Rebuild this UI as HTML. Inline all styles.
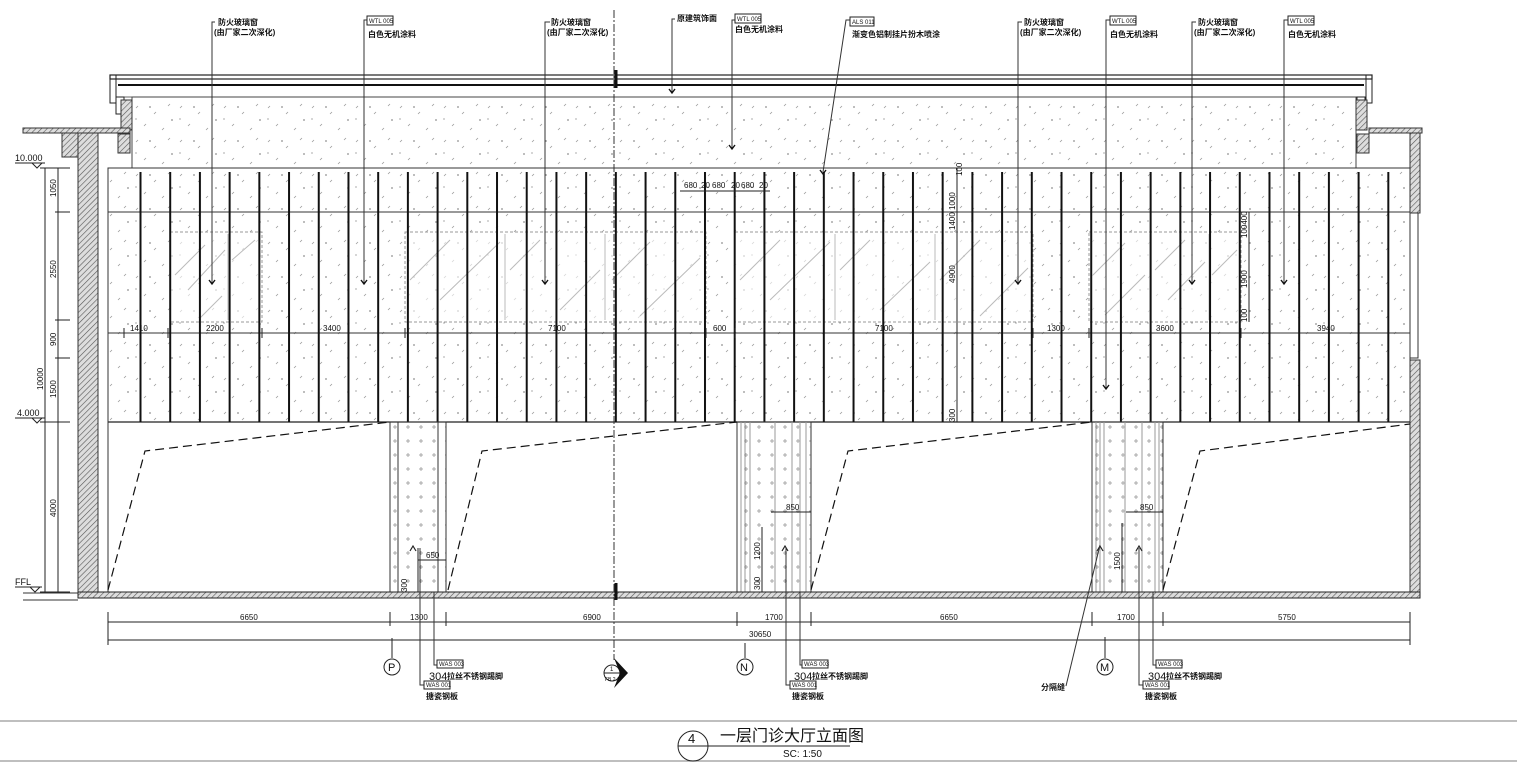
<!DOCTYPE html>
<html><head><meta charset="utf-8"><style>
html,body{margin:0;padding:0;background:#fff;width:1517px;height:763px;overflow:hidden}
svg{display:block}
text{font-family:"Liberation Sans","Noto Sans CJK SC",sans-serif;fill:#111}
.s{font-size:8px}
.c{font-size:8px;font-weight:bold}
</style></head><body>
<svg width="1517" height="763" viewBox="0 0 1517 763" xmlns="http://www.w3.org/2000/svg">
<defs>
<pattern id="dots" patternUnits="userSpaceOnUse" width="44" height="34">
<g stroke="#999" stroke-width="0.8">
<line x1="4" y1="6" x2="6" y2="4"/><line x1="22" y1="12" x2="24" y2="10"/><line x1="36" y1="4" x2="38" y2="2"/>
<line x1="12" y1="24" x2="14" y2="22"/><line x1="30" y1="28" x2="32" y2="26"/>
<line x1="17" y1="5" x2="19" y2="5"/><line x1="18" y1="4" x2="18" y2="6"/>
<line x1="39" y1="18" x2="41" y2="18"/><line x1="40" y1="17" x2="40" y2="19"/>
<line x1="3" y1="17" x2="5" y2="17"/>
</g></pattern>
<pattern id="plus" patternUnits="userSpaceOnUse" width="13" height="14">
<g stroke="#999" stroke-width="0.8"><line x1="3" y1="7" x2="7" y2="7"/><line x1="5" y1="5" x2="5" y2="9"/></g></pattern>
<pattern id="hatch" patternUnits="userSpaceOnUse" width="4" height="4" patternTransform="rotate(45)">
<rect width="4" height="4" fill="#ddd"/><line x1="0" y1="0" x2="0" y2="4" stroke="#555" stroke-width="1.2"/></pattern>
<pattern id="fins" patternUnits="userSpaceOnUse" x="139.5" y="0" width="29.71" height="10">
<rect x="0" y="0" width="2" height="10" fill="#111"/></pattern>
</defs>

<!-- roof coping -->
<rect x="110" y="75" width="1262" height="4" fill="#fff" stroke="#222" stroke-width="1.2"/>
<line x1="118" y1="85" x2="1364" y2="85" stroke="#111" stroke-width="2"/>
<line x1="118" y1="97" x2="1364" y2="97" stroke="#666" stroke-width="1"/>
<rect x="110" y="75" width="6" height="28" fill="none" stroke="#222"/>
<rect x="116" y="97" width="8" height="17" fill="none" stroke="#222"/>
<rect x="1366" y="75" width="6" height="28" fill="none" stroke="#222"/>
<rect x="1357" y="97" width="8" height="17" fill="none" stroke="#222"/>
<!-- fascia -->
<rect x="132" y="97" width="1224" height="71" fill="url(#dots)" stroke="#444" stroke-width="1"/>
<rect x="121" y="100" width="11" height="30" fill="url(#hatch)" stroke="#333"/>
<rect x="118" y="134" width="12" height="19" fill="url(#hatch)" stroke="#333"/>
<rect x="1356" y="100" width="11" height="30" fill="url(#hatch)" stroke="#333"/>
<rect x="1357" y="134" width="12" height="19" fill="url(#hatch)" stroke="#333"/>
<!-- left ledge/wall -->
<rect x="23" y="128" width="107" height="5" fill="url(#hatch)" stroke="#333"/>
<rect x="62" y="133" width="16" height="24" fill="url(#hatch)" stroke="#333"/>
<rect x="78" y="133" width="20" height="462" fill="url(#hatch)" stroke="#333"/>
<!-- right ledge/wall -->
<rect x="1369" y="128" width="53" height="5" fill="url(#hatch)" stroke="#333"/>
<rect x="1410" y="133" width="10" height="80" fill="url(#hatch)" stroke="#333"/>
<rect x="1410" y="213" width="8" height="145" fill="#fff" stroke="#333"/>
<rect x="1410" y="360" width="10" height="235" fill="url(#hatch)" stroke="#333"/>

<!-- main panel -->
<rect x="108" y="168" width="1302" height="254" fill="url(#dots)" stroke="#333" stroke-width="1"/>
<line x1="108" y1="212" x2="1410" y2="212" stroke="#333"/>
<line x1="108" y1="333" x2="1410" y2="333" stroke="#333"/>
<line x1="108" y1="422" x2="1410" y2="422" stroke="#222" stroke-width="1.3"/>
<line x1="108" y1="168" x2="108" y2="592" stroke="#333"/>

<!-- windows -->
<g fill="#fff" fill-opacity="0.6" stroke="#999" stroke-dasharray="3,2" stroke-width="1">
<rect x="170" y="232" width="92" height="90"/><rect x="405" y="232" width="301" height="90"/>
<rect x="735" y="232" width="298" height="90"/><rect x="1089" y="232" width="152" height="90"/>
</g>
<g stroke="#bbb" stroke-width="1">
<line x1="228" y1="234" x2="228" y2="320"/><line x1="505" y1="234" x2="505" y2="320"/><line x1="605" y1="234" x2="605" y2="320"/>
<line x1="835" y1="234" x2="835" y2="320"/><line x1="935" y1="234" x2="935" y2="320"/><line x1="1150" y1="234" x2="1150" y2="320"/><line x1="1209" y1="234" x2="1209" y2="320"/>
<line x1="175" y1="275" x2="205" y2="245"/><line x1="188" y1="290" x2="225" y2="250"/><line x1="232" y1="260" x2="255" y2="240"/><line x1="200" y1="318" x2="222" y2="296"/>
<line x1="410" y1="280" x2="450" y2="240"/><line x1="440" y1="300" x2="500" y2="242"/><line x1="510" y1="270" x2="540" y2="240"/><line x1="560" y1="310" x2="600" y2="270"/><line x1="612" y1="280" x2="650" y2="242"/><line x1="640" y1="316" x2="700" y2="258"/>
<line x1="740" y1="280" x2="780" y2="240"/><line x1="770" y1="300" x2="830" y2="242"/><line x1="840" y1="270" x2="870" y2="240"/><line x1="880" y1="310" x2="930" y2="262"/><line x1="940" y1="280" x2="980" y2="240"/><line x1="980" y1="316" x2="1028" y2="268"/>
<line x1="1093" y1="275" x2="1125" y2="243"/><line x1="1105" y1="315" x2="1145" y2="275"/><line x1="1155" y1="270" x2="1185" y2="240"/><line x1="1168" y1="300" x2="1205" y2="262"/><line x1="1212" y1="275" x2="1237" y2="250"/>
</g>
<!-- fins -->
<rect x="138" y="172" width="1252" height="250" fill="url(#fins)"/>

<!-- panel dims -->
<g stroke="#222" stroke-width="1"><line x1="124" y1="328" x2="124" y2="338"/><line x1="168" y1="328" x2="168" y2="338"/><line x1="262" y1="328" x2="262" y2="338"/><line x1="405" y1="328" x2="405" y2="338"/><line x1="706" y1="328" x2="706" y2="338"/><line x1="735" y1="328" x2="735" y2="338"/><line x1="1033" y1="328" x2="1033" y2="338"/><line x1="1089" y1="328" x2="1089" y2="338"/><line x1="1241" y1="328" x2="1241" y2="338"/></g>
<g class="s"><text x="130" y="331">1410</text><text x="206" y="331">2200</text><text x="323" y="331">3400</text><text x="548" y="331">7100</text><text x="713" y="331">600</text><text x="875" y="331">7100</text><text x="1047" y="331">1300</text><text x="1156" y="331">3600</text><text x="1317" y="331">3940</text></g>
<g class="s"><text x="684" y="188">680</text><text x="701" y="188">20</text><text x="712" y="188">680</text><text x="731" y="188">20</text><text x="741" y="188">680</text><text x="759" y="188">20</text></g>
<line x1="680" y1="191" x2="770" y2="191" stroke="#222"/>
<line x1="957" y1="168" x2="957" y2="422" stroke="#222"/>
<g class="s"><text transform="translate(955,230) rotate(-90)">1400 1000</text><text transform="translate(955,283) rotate(-90)">4900</text><text transform="translate(955,422) rotate(-90)">300</text><text transform="translate(962,176) rotate(-90)">100</text></g>
<line x1="1249" y1="212" x2="1249" y2="322" stroke="#222"/>
<g class="s"><text transform="translate(1247,238) rotate(-90)">100400</text><text transform="translate(1247,288) rotate(-90)">1900</text><text transform="translate(1247,322) rotate(-90)">100</text></g>

<!-- lower: columns -->
<rect x="390" y="422" width="56" height="170" fill="url(#plus)" stroke="#333"/>
<line x1="398" y1="422" x2="398" y2="592" stroke="#333"/><line x1="438" y1="422" x2="438" y2="592" stroke="#333"/>
<rect x="737" y="422" width="74" height="170" fill="url(#plus)" stroke="#333"/>
<g stroke="#999"><line x1="741" y1="422" x2="741" y2="592"/><line x1="745" y1="422" x2="745" y2="592"/><line x1="750" y1="422" x2="750" y2="592"/><line x1="775" y1="422" x2="775" y2="592"/><line x1="792" y1="422" x2="792" y2="592"/><line x1="800" y1="422" x2="800" y2="592"/><line x1="806" y1="422" x2="806" y2="592"/></g>
<rect x="1092" y="422" width="71" height="170" fill="url(#plus)" stroke="#333"/>
<g stroke="#999"><line x1="1096" y1="422" x2="1096" y2="592"/><line x1="1100" y1="422" x2="1100" y2="592"/><line x1="1104" y1="422" x2="1104" y2="592"/><line x1="1125" y1="422" x2="1125" y2="592"/><line x1="1142" y1="422" x2="1142" y2="592"/><line x1="1155" y1="422" x2="1155" y2="592"/><line x1="1159" y1="422" x2="1159" y2="592"/></g>
<!-- dashed doors -->
<g fill="none" stroke="#111" stroke-width="1.2" stroke-dasharray="9,5">
<polyline points="108,590 145,451 390,422"/><polyline points="448,590 482,451 737,422"/>
<polyline points="811,590 848,451 1092,422"/><polyline points="1163,590 1200,451 1410,424"/>
</g>
<!-- column dims -->
<g stroke="#222" fill="none"><line x1="418" y1="560" x2="446" y2="560"/><line x1="418" y1="548" x2="418" y2="592"/><line x1="771" y1="512" x2="811" y2="512"/><line x1="762" y1="527" x2="762" y2="592"/><line x1="1126" y1="512" x2="1163" y2="512"/><line x1="1122" y1="523" x2="1122" y2="592"/></g>
<g class="s"><text x="426" y="558">650</text><text x="786" y="510">850</text><text x="1140" y="510">850</text>
<text transform="translate(407,592) rotate(-90)">300</text><text transform="translate(760,590) rotate(-90)">300</text><text transform="translate(760,560) rotate(-90)">1200</text><text transform="translate(1120,570) rotate(-90)">1500</text></g>
<g stroke="#222" stroke-width="1.2" fill="none"><polyline points="410,551 413,546 416,551"/><polyline points="782,551 785,546 788,551"/><polyline points="1097,551 1100,546 1103,551"/><polyline points="1136,551 1139,546 1142,551"/></g>
<!-- floor -->
<rect x="78" y="592" width="1342" height="6" fill="url(#hatch)" stroke="#222"/>
<line x1="23" y1="593" x2="78" y2="593" stroke="#333"/><line x1="23" y1="600" x2="78" y2="600" stroke="#333"/>
<!-- centerline -->
<line x1="614" y1="10" x2="614" y2="660" stroke="#333" stroke-dasharray="8,2,2,2"/>
<line x1="616" y1="70" x2="616" y2="88" stroke="#111" stroke-width="3"/>
<line x1="616" y1="583" x2="616" y2="600" stroke="#111" stroke-width="3"/>

<!-- bottom dims -->
<line x1="108" y1="622" x2="1410" y2="622" stroke="#222"/>
<line x1="108" y1="640" x2="1410" y2="640" stroke="#222"/>
<g stroke="#222"><line x1="108" y1="612" x2="108" y2="645"/><line x1="390" y1="612" x2="390" y2="626"/><line x1="446" y1="612" x2="446" y2="626"/><line x1="737" y1="612" x2="737" y2="626"/><line x1="811" y1="612" x2="811" y2="626"/><line x1="1092" y1="612" x2="1092" y2="626"/><line x1="1163" y1="612" x2="1163" y2="626"/><line x1="1410" y1="612" x2="1410" y2="645"/></g>
<g class="s"><text x="240" y="620">6650</text><text x="410" y="620">1300</text><text x="583" y="620">6900</text><text x="765" y="620">1700</text><text x="940" y="620">6650</text><text x="1117" y="620">1700</text><text x="1278" y="620">5750</text><text x="749" y="637">30650</text></g>
<!-- grid -->
<g stroke="#222" fill="#fff"><line x1="392" y1="638" x2="392" y2="658"/><circle cx="392" cy="667" r="8"/><line x1="745" y1="643" x2="745" y2="658"/><circle cx="745" cy="667" r="8"/><line x1="1105" y1="637" x2="1105" y2="658"/><circle cx="1105" cy="667" r="8"/>
<circle cx="612" cy="673" r="8"/><line x1="604" y1="673" x2="620" y2="673"/></g>
<polygon points="614,658 628,673 614,688 620,673" fill="#111"/>
<g font-size="11"><text x="388" y="671">P</text><text x="740" y="671">N</text><text x="1100" y="671">M</text></g>
<text x="610" y="671" font-size="6">1</text><text x="605" y="681" font-size="5">FB 2.1</text>

<!-- left dims -->
<line x1="45" y1="168" x2="45" y2="592" stroke="#222"/><line x1="58" y1="168" x2="58" y2="592" stroke="#222"/>
<g stroke="#222"><line x1="40" y1="168" x2="70" y2="168"/><line x1="55" y1="212" x2="70" y2="212"/><line x1="55" y1="320" x2="70" y2="320"/><line x1="55" y1="358" x2="70" y2="358"/><line x1="40" y1="422" x2="70" y2="422"/><line x1="40" y1="592" x2="70" y2="592"/></g>
<g class="s"><text transform="translate(56,197) rotate(-90)">1050</text><text transform="translate(56,278) rotate(-90)">2550</text><text transform="translate(56,346) rotate(-90)">900</text><text transform="translate(56,398) rotate(-90)">1500</text><text transform="translate(56,517) rotate(-90)">4000</text><text transform="translate(43,390) rotate(-90)">10000</text></g>
<g font-size="9"><text x="15" y="161">10.000</text><text x="17" y="416">4.000</text><text x="15" y="585">FFL</text></g>
<g stroke="#222" fill="none"><line x1="15" y1="163" x2="45" y2="163"/><polyline points="32,163 37,168 42,163"/><line x1="15" y1="418" x2="45" y2="418"/><polyline points="32,418 37,423 42,418"/><line x1="15" y1="587" x2="42" y2="587"/><polyline points="30,587 35,592 40,587"/></g>

<!-- top leaders -->
<g stroke="#333" stroke-width="1" fill="none">
<polyline points="215,22 212,22 212,283"/><polyline points="367,20 364,20 364,283"/><polyline points="550,22 545,22 545,283"/>
<polyline points="675,19 672,19 672,92"/><polyline points="735,20 732,20 732,148"/><polyline points="850,20 846,20 823,172"/>
<polyline points="1022,22 1018,22 1018,283"/><polyline points="1110,20 1106,20 1106,388"/><polyline points="1196,22 1192,22 1192,283"/><polyline points="1288,20 1284,20 1284,283"/>
</g>
<g stroke="#111" stroke-width="1.4" fill="none">
<polyline points="209,280 212,284 215,280"/><polyline points="361,280 364,284 367,280"/><polyline points="542,280 545,284 548,280"/><polyline points="669,89 672,93 675,89"/><polyline points="729,145 732,149 735,145"/><polyline points="1015,280 1018,284 1021,280"/><polyline points="1103,385 1106,389 1109,385"/><polyline points="1189,280 1192,284 1195,280"/><polyline points="1281,280 1284,284 1287,280"/><polyline points="820,170 823,174 826,170"/>
</g>
<g class="c">
<text x="218" y="25">防火玻璃窗</text><text x="214" y="35">(由厂家二次深化)</text>
<text x="551" y="25">防火玻璃窗</text><text x="547" y="35">(由厂家二次深化)</text>
<text x="1024" y="25">防火玻璃窗</text><text x="1020" y="35">(由厂家二次深化)</text>
<text x="1198" y="25">防火玻璃窗</text><text x="1194" y="35">(由厂家二次深化)</text>
<text x="368" y="37">白色无机涂料</text><text x="735" y="32">白色无机涂料</text><text x="1110" y="37">白色无机涂料</text><text x="1288" y="37">白色无机涂料</text>
<text x="677" y="21">原建筑饰面</text><text x="852" y="37">渐变色铝制挂片扮木喷涂</text>
</g>
<g stroke="#222" fill="#fff"><rect x="367" y="16" width="26" height="9"/><rect x="735" y="14" width="26" height="9"/><rect x="850" y="17" width="24" height="9"/><rect x="1110" y="16" width="26" height="9"/><rect x="1288" y="16" width="26" height="9"/></g>
<g font-size="6"><text x="369" y="23">WTL 005</text><text x="737" y="21">WTL 005</text><text x="852" y="24">ALS 011</text><text x="1112" y="23">WTL 005</text><text x="1290" y="23">WTL 005</text></g>

<!-- bottom leaders -->
<g stroke="#333" fill="none">
<polyline points="420,548 420,685 424,685"/><polyline points="434,592 434,665 437,665"/>
<polyline points="786,548 786,685 790,685"/><polyline points="800,592 800,665 802,665"/>
<polyline points="1139,548 1139,685 1143,685"/><polyline points="1153,592 1153,665 1156,665"/>
<polyline points="1066,686 1100,545"/>
</g>
<g stroke="#222" fill="#fff"><rect x="437" y="660" width="26" height="8"/><rect x="424" y="681" width="26" height="8"/><rect x="802" y="660" width="26" height="8"/><rect x="790" y="681" width="26" height="8"/><rect x="1156" y="660" width="26" height="8"/><rect x="1143" y="681" width="26" height="8"/></g>
<g font-size="6"><text x="439" y="666">WAS 003</text><text x="426" y="687">WAS 001</text><text x="804" y="666">WAS 003</text><text x="792" y="687">WAS 001</text><text x="1158" y="666">WAS 003</text><text x="1145" y="687">WAS 001</text></g>
<g><text x="429" y="680" font-size="11">304</text><text x="447" y="679" class="c">拉丝不锈钢踢脚</text>
<text x="794" y="680" font-size="11">304</text><text x="812" y="679" class="c">拉丝不锈钢踢脚</text>
<text x="1148" y="680" font-size="11">304</text><text x="1166" y="679" class="c">拉丝不锈钢踢脚</text>
<text x="426" y="699" class="c">搪瓷钢板</text><text x="792" y="699" class="c">搪瓷钢板</text><text x="1145" y="699" class="c">搪瓷钢板</text>
<text x="1041" y="690" class="c">分隔缝</text></g>

<!-- title -->
<line x1="0" y1="721" x2="1517" y2="721" stroke="#999" stroke-width="1.2"/>
<line x1="0" y1="761" x2="1517" y2="761" stroke="#999" stroke-width="1.2"/>
<circle cx="693" cy="746" r="15" fill="none" stroke="#222"/>
<line x1="678" y1="746" x2="850" y2="746" stroke="#222"/>
<text x="688" y="743" font-size="13">4</text>
<text x="720" y="741" font-size="16">一层门诊大厅立面图</text>
<text x="783" y="757" font-size="10">SC:   1:50</text>
</svg>
</body></html>
